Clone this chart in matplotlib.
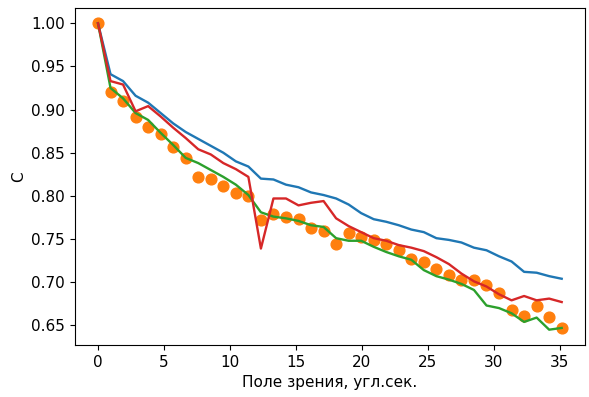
import numpy as np
import matplotlib
matplotlib.use("Agg")
import matplotlib.pyplot as plt

plt.rcParams["font.size"] = 11

# field of view grid, arcsec
fov = np.arange(38) * 0.95

c_blue = [1.00, 0.941, 0.933, 0.916, 0.908, 0.896, 0.884, 0.874, 0.866, 0.858,
          0.850, 0.840, 0.834, 0.820, 0.819, 0.813, 0.810, 0.804, 0.801, 0.797,
          0.790, 0.780, 0.773, 0.770, 0.766, 0.761, 0.758, 0.751, 0.749, 0.746,
          0.740, 0.737, 0.730, 0.724, 0.712, 0.711, 0.707, 0.704]

c_points = [1.00, 0.920, 0.910, 0.891, 0.880, 0.872, 0.857, 0.844, 0.822, 0.819,
            0.812, 0.803, 0.800, 0.772, 0.779, 0.775, 0.773, 0.763, 0.759, 0.744,
            0.757, 0.752, 0.749, 0.744, 0.737, 0.727, 0.723, 0.715, 0.708, 0.703,
            0.703, 0.697, 0.687, 0.668, 0.661, 0.672, 0.660, 0.647]

c_green = [1.00, 0.925, 0.913, 0.896, 0.888, 0.873, 0.859, 0.844, 0.838, 0.830,
           0.822, 0.813, 0.801, 0.781, 0.776, 0.774, 0.771, 0.766, 0.764, 0.751,
           0.748, 0.748, 0.741, 0.735, 0.730, 0.726, 0.714, 0.707, 0.703, 0.698,
           0.691, 0.673, 0.670, 0.664, 0.654, 0.659, 0.645, 0.647]

c_red = [1.00, 0.933, 0.929, 0.898, 0.904, 0.892, 0.879, 0.867, 0.854, 0.848,
         0.838, 0.831, 0.822, 0.739, 0.797, 0.797, 0.789, 0.792, 0.794, 0.774,
         0.765, 0.758, 0.751, 0.748, 0.743, 0.740, 0.736, 0.729, 0.721, 0.710,
         0.701, 0.695, 0.686, 0.679, 0.684, 0.679, 0.681, 0.677]

fig = plt.figure(figsize=(5.89, 3.97), dpi=100)
ax = fig.add_axes([0.127, 0.131, 0.866, 0.849])

ax.plot(fov, c_blue, color="tab:blue", lw=1.7)
ax.scatter(fov, c_points, color="tab:orange", s=60)
ax.plot(fov, c_green, color="tab:green", lw=1.7)
ax.plot(fov, c_red, color="tab:red", lw=1.7)

ax.set_xlabel("Поле зрения, угл.сек.")
ax.set_ylabel("C")
ax.set_yticks([0.65, 0.70, 0.75, 0.80, 0.85, 0.90, 0.95, 1.00])

fig.savefig("out.png")
plt.close()
